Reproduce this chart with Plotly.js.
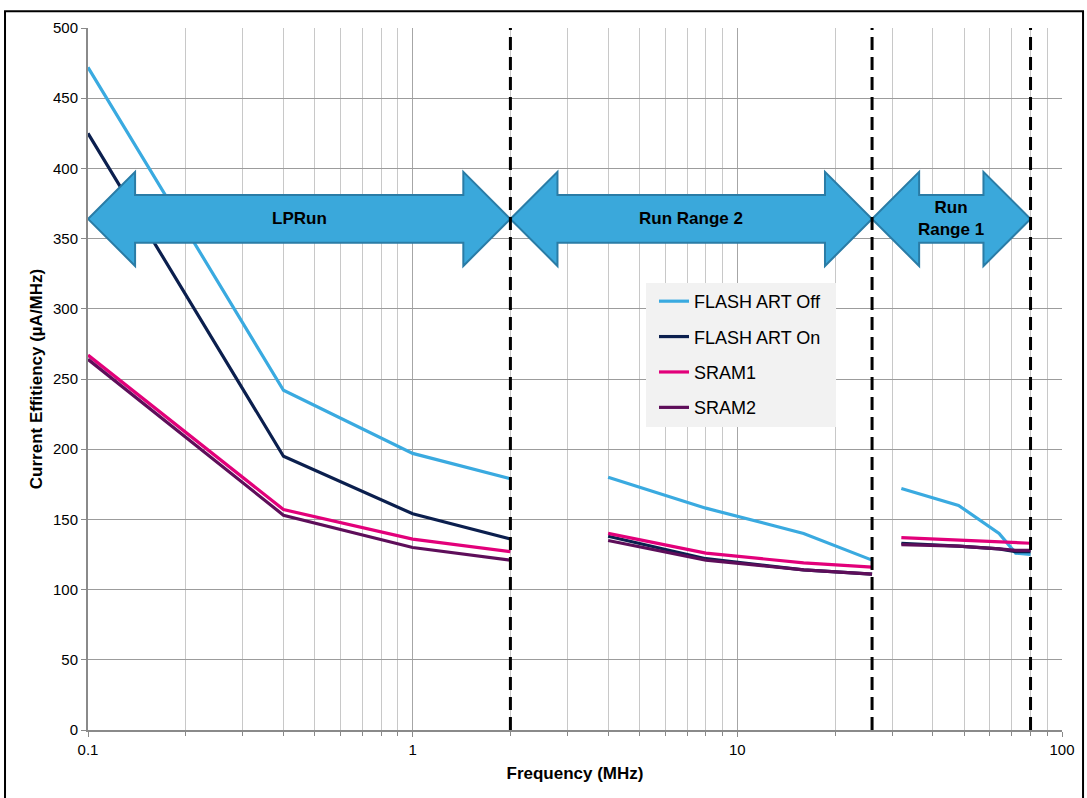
<!DOCTYPE html>
<html>
<head>
<meta charset="utf-8">
<script src="https://cdn.plot.ly/plotly-3.0.1.min.js"></script>
<style>html,body{margin:0;padding:0;background:#fff;}#chart{width:1087px;height:798px;}</style>
</head>
<body>
<div id="chart"></div>
<script>
// Frequency points (MHz); null separates the three operating ranges
const freq = [0.1, 0.4, 1, 2, null, 4, 8, 16, 26, null, 32, 48, 64, 72, 80];
const flashArtOff = [472, 242, 197, 179, null, 180, 158, 140, 121, null, 172, 160, 140, 126, 125];
const flashArtOn  = [425, 195, 154, 136, null, 138, 122, 114, 111, null, 133, 131, 129, 127, 127];
const sram1       = [267, 157, 136, 127, null, 140, 126, 119, 116, null, 137, 135, 134, 133, 133];
const sram2       = [264, 153, 130, 121, null, 135, 121, 114, 111, null, 132, 131, 129, 128, 128];
const seriesNames = ['FLASH ART Off', 'FLASH ART On', 'SRAM1', 'SRAM2'];
const seriesColors = ['#3AAAE0', '#0B1F4E', '#E2007A', '#5E0E5A'];
// Range boundaries (MHz) and labels
const rangeBounds = [[0.1, 2], [2, 26], [26, 80]];
const rangeLabels = ['LPRun', 'Run Range 2', 'Run<br>Range 1'];
const dividers = [2, 26, 80];
const xTickVals = [0.1, 1, 10, 100];
const xTickText = ['0.1', '1', '10', '100'];

const FONT = 'Liberation Sans, Arial, sans-serif';
const seriesData = [flashArtOff, flashArtOn, sram1, sram2];
const traces = seriesData.map((ys, i) => ({
  type: 'scatter', mode: 'lines', x: freq, y: ys, name: seriesNames[i],
  legendgroup: 'g' + i, connectgaps: false,
  line: {color: seriesColors[i], width: 3.2}
}));

// Arrow geometry
const headDec = 0.145, yc = 364, hh = 33.5, sh = 17;
function arrowPath(xl, xr) {
  const f = Math.pow(10, headDec);
  const a = xl * f, b = xr / f;
  return `M${xl},${yc} L${a},${yc+hh} L${a},${yc+sh} L${b},${yc+sh} L${b},${yc+hh} L${xr},${yc} ` +
         `L${b},${yc-hh} L${b},${yc-sh} L${a},${yc-sh} L${a},${yc-hh} Z`;
}
const shapes = [];
rangeBounds.forEach(([l, r]) => shapes.push({
  type: 'path', xref: 'x', yref: 'y', path: arrowPath(l, r), layer: 'above',
  fillcolor: '#3AA8DB', line: {color: '#2A7CA6', width: 2}
}));
dividers.forEach(d => shapes.push({
  type: 'line', xref: 'x', yref: 'paper', x0: d, x1: d, y0: 0, y1: 1, layer: 'above',
  line: {color: '#000', width: 3, dash: '13px,7px'}
}));
// legend background box
shapes.push({type: 'rect', xref: 'paper', yref: 'paper', x0: 0.5729, x1: 0.7680, y0: 0.4316, y1: 0.6368,
  line: {width: 0}, fillcolor: '#F2F2F2', layer: 'above'});
// outer frame
shapes.push({type: 'rect', xref: 'paper', yref: 'paper', x0: -0.0852, x1: 1.0216, y0: -0.11, y1: 1.024,
  line: {color: '#000', width: 2}, fillcolor: 'rgba(0,0,0,0)', layer: 'above'});

const annotations = rangeBounds.map(([l, r], i) => ({
  xref: 'x', yref: 'y', x: (Math.log10(l) + Math.log10(r)) / 2, y: yc,
  text: '<b>' + rangeLabels[i] + '</b>', showarrow: false,
  font: {family: FONT, size: 17, color: '#000'}, xanchor: 'center', yanchor: 'middle'
}));

const layout = {
  width: 1087, height: 798,
  margin: {l: 88, r: 25, t: 28, b: 68},
  paper_bgcolor: '#fff', plot_bgcolor: '#fff',
  showlegend: true,
  legend: {x: 0.5811, y: 0.6368, xanchor: 'left', yanchor: 'top', bgcolor: 'rgba(0,0,0,0)',
    borderwidth: 0, font: {family: FONT, size: 18, color: '#000'},
    traceorder: 'grouped', tracegroupgap: 9},
  xaxis: {type: 'log', range: [-1, 2], tickmode: 'array', tickvals: xTickVals, ticktext: xTickText,
    showgrid: true, gridcolor: '#A6A6A6', gridwidth: 1,
    minor: {dtick: 'D1', showgrid: true, gridcolor: '#C8C8C8', gridwidth: 1, ticks: 'outside', ticklen: 4, tickcolor: '#888'},
    showline: true, linecolor: '#8A8A8A', linewidth: 2, ticks: 'outside', ticklen: 5, tickcolor: '#8A8A8A',
    tickfont: {family: FONT, size: 15, color: '#000'}, zeroline: false,
    title: {text: '<b>Frequency (MHz)</b>', font: {family: FONT, size: 17, color: '#000'}, standoff: 10}},
  yaxis: {range: [0, 500], dtick: 50, showgrid: true, gridcolor: '#9C9C9C', gridwidth: 1,
    showline: true, linecolor: '#8A8A8A', linewidth: 2, ticks: 'outside', ticklen: 5, tickcolor: '#8A8A8A',
    tickfont: {family: FONT, size: 15, color: '#000'}, zeroline: false,
    title: {text: '<b>Current Effitiency (µA/MHz)</b>', font: {family: FONT, size: 17, color: '#000'}, standoff: 6}},
  shapes: shapes,
  annotations: annotations
};

Plotly.newPlot('chart', traces, layout, {displayModeBar: false, staticPlot: true});
</script>
</body>
</html>
